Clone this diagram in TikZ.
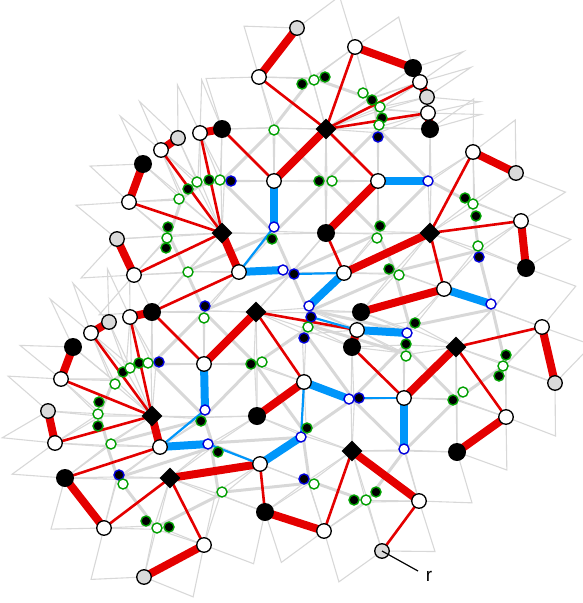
\documentclass[tikz,border=0pt]{standalone}
\usepackage{fontspec}
\setsansfont{Liberation Sans}
\usetikzlibrary{calc,shapes.geometric}
\pgfdeclarelayer{tiles}
\pgfdeclarelayer{edges}
\pgfsetlayers{tiles,edges,main}
\definecolor{tred}{RGB}{228,0,0}
\definecolor{tblue}{RGB}{0,150,250}
\definecolor{tgreen}{RGB}{0,160,0}
\definecolor{tnavy}{RGB}{0,0,220}
\definecolor{tline}{RGB}{216,216,216}
\definecolor{tleaf}{RGB}{218,218,218}

% rhombus of side 53 with diagonal #1--#2
\newcommand{\spike}[2]{%
  \draw[tilethin] let \p1=(#1.center), \p2=(#2.center),
    \n1={veclen(\x2-\x1,\y2-\y1)/2}, \n2={sqrt(max(2809-\n1*\n1,0))} in
    (\p1) -- ($(\p1)!.5!(\p2)!\n2!90:(\p2)$) -- (\p2)
    -- ($(\p1)!.5!(\p2)!\n2!-90:(\p2)$) -- cycle;}
\newcommand{\tile}[2]{%
  \draw[tilethick] let \p1=(#1.center), \p2=(#2.center),
    \n1={veclen(\x2-\x1,\y2-\y1)/2}, \n2={sqrt(max(2809-\n1*\n1,0))} in
    ($(\p1)!.5!(\p2)!\n2!90:(\p2)$) -- ($(\p1)!.5!(\p2)!\n2!-90:(\p2)$);
  \spike{#1}{#2}}

\begin{document}
\begin{tikzpicture}[x=1pt,y=-1pt,
  wn/.style={circle,draw,fill=white,line width=1.3pt,minimum size=14.5pt,inner sep=0pt},
  gn/.style={wn,fill=tleaf},
  bn/.style={circle,fill=black,minimum size=18pt,inner sep=0pt},
  dn/.style={diamond,fill=black,minimum size=21pt,inner sep=0pt},
  sm/.style={circle,line width=1.4pt,minimum size=10pt,inner sep=0pt},
  gb/.style={sm,draw=tgreen,fill=black},
  gw/.style={sm,draw=tgreen,fill=white},
  bb/.style={sm,draw=tnavy,fill=black},
  bw/.style={sm,draw=tnavy,fill=white},
  tilethin/.style={tline,line width=1.1pt},
  tilethick/.style={tline,line width=3pt},
  rfat/.style={tred,line width=8pt},
  rthin/.style={tred,line width=2.6pt},
  bfat/.style={tblue,line width=8pt},
  bthin/.style={tblue,line width=2.2pt}]
\useasboundingbox (0,0) rectangle (583,603);

% Large nodes
\node[gn] (p1) at (297,28) {};
\node[wn] (p2) at (259,77) {};
\node[wn] (p3) at (355,47) {};
\node[bn] (p4) at (413,68) {};
\node[wn] (p5) at (420,82) {};
\node[gn] (p6) at (427,97) {};
\node[wn] (p7) at (428,113) {};
\node[bn] (p8) at (430,129) {};
\node[dn] (p9) at (326,129) {};
\node[wn] (p10) at (274,181) {};
\node[wn] (p11) at (378,181) {};
\node[wn] (p12) at (200,133) {};
\node[bn] (p13) at (222,129) {};
\node[gn] (p14) at (178,138) {};
\node[wn] (p15) at (161,150) {};
\node[bn] (p16) at (143,164) {};
\node[wn] (p17) at (129,202) {};
\node[dn] (p18) at (222,233) {};
\node[gn] (p19) at (117,239) {};
\node[wn] (p20) at (134,275) {};
\node[wn] (p21) at (239,272) {};
\node[wn] (p22) at (344,273) {};
\node[bn] (p23) at (326,233) {};
\node[dn] (p24) at (430,233) {};
\node[wn] (p25) at (473,152) {};
\node[gn] (p26) at (516,173) {};
\node[wn] (p27) at (521,221) {};
\node[bn] (p28) at (526,268) {};
\node[wn] (p29) at (444,289) {};
\node[bn] (p30) at (361,312) {};
\node[bn] (p32) at (352,347) {};
\node[wn] (p31) at (357,330) {};
\node[dn] (p33) at (456,347) {};
\node[wn] (p34) at (542,327) {};
\node[gn] (p35) at (555,383) {};
\node[wn] (p36) at (506,417) {};
\node[bn] (p37) at (457,452) {};
\node[wn] (p38) at (404,398) {};
\node[dn] (p39) at (352,451) {};
\node[wn] (p40) at (419,501) {};
\node[gn] (p41) at (382,551) {};
\node[wn] (p42) at (324,531) {};
\node[bn] (p43) at (265,512) {};
\node[wn] (p44) at (260,464) {};
\node[wn] (p45) at (304,382) {};
\node[bn] (p46) at (257,416) {};
\node[dn] (p47) at (256,312) {};
\node[wn] (p48) at (204,364) {};
\node[wn] (p49) at (160,447) {};
\node[dn] (p50) at (152,416) {};
\node[wn] (p51) at (55,443) {};
\node[gn] (p52) at (48,411) {};
\node[wn] (p53) at (61,379) {};
\node[bn] (p54) at (73,347) {};
\node[wn] (p55) at (91,333) {};
\node[gn] (p56) at (109,322) {};
\node[wn] (p57) at (130,317) {};
\node[bn] (p58) at (152,312) {};
\node[bn] (p59) at (65,478) {};
\node[wn] (p60) at (104,528) {};
\node[dn] (p61) at (170,478) {};
\node[wn] (p62) at (204,545) {};
\node[gn] (p63) at (144,577) {};

% Small nodes
\node[bw] (b1) at (428,181) {};
\node[bw] (b2) at (274,227) {};
\node[bw] (b3) at (283,270) {};
\node[bw] (b4) at (309,306) {};
\node[bw] (b5) at (491,304) {};
\node[bw] (b6) at (407,333) {};
\node[bw] (b7) at (349,399) {};
\node[bw] (b8) at (404,449) {};
\node[bw] (b9) at (205,410) {};
\node[bw] (b10) at (208,444) {};
\node[bw] (b11) at (301,437) {};
\node[bb] (k1) at (378,137) {};
\node[bb] (k2) at (231,181) {};
\node[bb] (k3) at (294,274) {};
\node[bb] (k4) at (311,317) {};
\node[bb] (k5) at (304,338) {};
\node[bb] (k6) at (205,306) {};
\node[bb] (k7) at (159,362) {};
\node[bb] (k8) at (359,398) {};
\node[bb] (k9) at (479,257) {};
\node[bb] (k10) at (119,475) {};
\node[bb] (k11) at (304,479) {};
\node[gb] (g1) at (302,84) {};
\node[gw] (w1) at (314,80) {};
\node[gb] (g2) at (325,77) {};
\node[gw] (w2) at (363,93) {};
\node[gb] (g3) at (372,100) {};
\node[gw] (w3) at (380,107) {};
\node[gb] (g4) at (382,118) {};
\node[gw] (w4) at (379,125) {};
\node[gw] (w5) at (274,130) {};
\node[gb] (g7) at (319,181) {};
\node[gw] (w6) at (332,181) {};
\node[gw] (w7) at (197,182) {};
\node[gb] (g5) at (209,180) {};
\node[gw] (w8) at (220,180) {};
\node[gb] (g6) at (188,189) {};
\node[gw] (w9) at (179,199) {};
\node[gb] (g9) at (168,227) {};
\node[gw] (w10) at (167,238) {};
\node[gb] (g10) at (166,248) {};
\node[gw] (w11) at (188,272) {};
\node[gb] (g8) at (272,239) {};
\node[gb] (g11) at (380,226) {};
\node[gw] (w12) at (377,238) {};
\node[gb] (g12) at (389,269) {};
\node[gw] (w13) at (399,275) {};
\node[gb] (g13) at (465,198) {};
\node[gw] (w14) at (473,204) {};
\node[gb] (g14) at (476,216) {};
\node[gw] (w15) at (478,246) {};
\node[gw] (w16) at (204,318) {};
\node[gw] (w17) at (308,327) {};
\node[gb] (g15) at (415,323) {};
\node[gb] (g16) at (406,344) {};
\node[gw] (w18) at (406,356) {};
\node[gb] (g17) at (251,364) {};
\node[gw] (w19) at (262,362) {};
\node[gb] (g18) at (123,372) {};
\node[gw] (w20) at (130,368) {};
\node[gb] (g19) at (139,363) {};
\node[gw] (w21) at (148,363) {};
\node[gw] (w22) at (115,384) {};
\node[gb] (g20) at (506,355) {};
\node[gw] (w23) at (503,366) {};
\node[gb] (g21) at (499,376) {};
\node[gb] (g22) at (99,402) {};
\node[gw] (w24) at (98,414) {};
\node[gb] (g23) at (98,426) {};
\node[gw] (w25) at (111,444) {};
\node[gb] (g24) at (201,421) {};
\node[gb] (g25) at (218,452) {};
\node[gb] (g26) at (307,428) {};
\node[gb] (g27) at (453,400) {};
\node[gw] (w26) at (463,392) {};
\node[gw] (w27) at (123,484) {};
\node[gw] (w28) at (222,492) {};
\node[gw] (w29) at (314,484) {};
\node[gb] (g30) at (354,500) {};
\node[gw] (w30) at (366,500) {};
\node[gb] (g31) at (376,492) {};
\node[gb] (g28) at (146,521) {};
\node[gw] (w31) at (157,528) {};
\node[gb] (g29) at (169,527) {};

% Tiling
\begin{pgfonlayer}{tiles}
\spike{p1}{p2} \spike{p1}{p3} \spike{p3}{p4} \spike{p4}{p5} \spike{p5}{p6}
\spike{p6}{p7} \spike{p7}{p8} \spike{p8}{p25} \spike{p25}{p26} \spike{p26}{p27}
\spike{p27}{p28} \spike{p28}{p34} \spike{p34}{p35} \spike{p35}{p36} \spike{p36}{p37}
\spike{p37}{p40} \spike{p40}{p41} \spike{p41}{p42} \spike{p42}{p43} \spike{p43}{p62}
\spike{p62}{p63} \spike{p60}{p63} \spike{p59}{p60} \spike{p51}{p59} \spike{p51}{p52}
\spike{p52}{p53} \spike{p53}{p54} \spike{p54}{p55} \spike{p55}{p56} \spike{p56}{p57}
\spike{p57}{p58} \spike{p20}{p58} \spike{p19}{p20} \spike{p17}{p19} \spike{p16}{p17}
\spike{p15}{p16} \spike{p14}{p15} \spike{p12}{p14} \spike{p12}{p13} \spike{p2}{p13}
\tile{p2}{p9} \tile{p3}{p9} \tile{p5}{p9} \tile{p7}{p9} \tile{p9}{p11}
\tile{p9}{p10} \tile{p10}{p13} \tile{p8}{p11} \tile{p10}{p18} \tile{p10}{p23}
\tile{p11}{p24} \tile{p11}{p23} \tile{p12}{p18} \tile{p15}{p18} \tile{p17}{p18}
\tile{p20}{p18} \tile{p18}{p21} \tile{p21}{p23} \tile{p22}{p23} \tile{p22}{p24}
\tile{p24}{p25} \tile{p24}{p27} \tile{p24}{p29} \tile{p28}{p29} \tile{p29}{p30}
\tile{p29}{p33} \tile{p33}{p34} \tile{p21}{p58} \tile{p21}{p47} \tile{p22}{p47}
\tile{p22}{p30} \tile{p30}{p31} \tile{p31}{p47} \tile{p31}{p32} \tile{p31}{p33}
\tile{p32}{p38} \tile{p33}{p38} \tile{p33}{p36} \tile{p37}{p38} \tile{p38}{p39}
\tile{p32}{p45} \tile{p39}{p45} \tile{p39}{p44} \tile{p39}{p42} \tile{p39}{p40}
\tile{p43}{p44} \tile{p45}{p47} \tile{p45}{p46} \tile{p47}{p48} \tile{p48}{p58}
\tile{p46}{p48} \tile{p44}{p46} \tile{p46}{p49} \tile{p48}{p50} \tile{p49}{p50}
\tile{p49}{p61} \tile{p44}{p61} \tile{p61}{p62} \tile{p60}{p61} \tile{p49}{p59}
\tile{p50}{p51} \tile{p50}{p53} \tile{p50}{p55} \tile{p50}{p57}
\end{pgfonlayer}

% Red tree
\begin{pgfonlayer}{edges}
\draw[rfat] (p1.center) -- (p2.center);
\draw[rfat] (p3.center) -- (p4.center);
\draw[rfat] (p5.center) -- (p6.center);
\draw[rfat] (p7.center) -- (p8.center);
\draw[rfat] (p9.center) -- (p10.center);
\draw[rfat] (p11.center) -- (p23.center);
\draw[rfat] (p12.center) -- (p13.center);
\draw[rfat] (p14.center) -- (p15.center);
\draw[rfat] (p16.center) -- (p17.center);
\draw[rfat] (p18.center) -- (p21.center);
\draw[rfat] (p19.center) -- (p20.center);
\draw[rfat] (p22.center) -- (p24.center);
\draw[rfat] (p25.center) -- (p26.center);
\draw[rfat] (p27.center) -- (p28.center);
\draw[rfat] (p29.center) -- (p30.center);
\draw[rfat] (p31.center) -- (p32.center);
\draw[rfat] (p33.center) -- (p38.center);
\draw[rfat] (p34.center) -- (p35.center);
\draw[rfat] (p36.center) -- (p37.center);
\draw[rfat] (p39.center) -- (p40.center);
\draw[rfat] (p42.center) -- (p43.center);
\draw[rfat] (p44.center) -- (p61.center);
\draw[rfat] (p45.center) -- (p46.center);
\draw[rfat] (p47.center) -- (p48.center);
\draw[rfat] (p49.center) -- (p50.center);
\draw[rfat] (p51.center) -- (p52.center);
\draw[rfat] (p53.center) -- (p54.center);
\draw[rfat] (p55.center) -- (p56.center);
\draw[rfat] (p57.center) -- (p58.center);
\draw[rfat] (p59.center) -- (p60.center);
\draw[rfat] (p62.center) -- (p63.center);
\draw[rthin] (p2.center) -- (p9.center);
\draw[rthin] (p3.center) -- (p9.center);
\draw[rthin] (p5.center) -- (p9.center);
\draw[rthin] (p7.center) -- (p9.center);
\draw[rthin] (p11.center) -- (p9.center);
\draw[rthin] (p13.center) -- (p10.center);
\draw[rthin] (p12.center) -- (p18.center);
\draw[rthin] (p15.center) -- (p18.center);
\draw[rthin] (p17.center) -- (p18.center);
\draw[rthin] (p20.center) -- (p18.center);
\draw[rthin] (p23.center) -- (p22.center);
\draw[rthin] (p25.center) -- (p24.center);
\draw[rthin] (p27.center) -- (p24.center);
\draw[rthin] (p29.center) -- (p24.center);
\draw[rthin] (p58.center) -- (p21.center);
\draw[rthin] (p31.center) -- (p47.center);
\draw[rthin] (p45.center) -- (p47.center);
\draw[rthin] (p32.center) -- (p38.center);
\draw[rthin] (p34.center) -- (p33.center);
\draw[rthin] (p36.center) -- (p33.center);
\draw[rthin] (p42.center) -- (p39.center);
\draw[rthin] (p41.center) -- (p40.center);
\draw[rthin] (p43.center) -- (p44.center);
\draw[rthin] (p57.center) -- (p50.center);
\draw[rthin] (p55.center) -- (p50.center);
\draw[rthin] (p53.center) -- (p50.center);
\draw[rthin] (p51.center) -- (p50.center);
\draw[rthin] (p58.center) -- (p48.center);
\draw[rthin] (p59.center) -- (p49.center);
\draw[rthin] (p60.center) -- (p61.center);
\draw[rthin] (p62.center) -- (p61.center);

% Blue tree
\draw[bfat] (p11.center) -- (b1.center);
\draw[bfat] (p10.center) -- (b2.center);
\draw[bfat] (p21.center) -- (b3.center);
\draw[bfat] (p22.center) -- (b4.center);
\draw[bfat] (p29.center) -- (b5.center);
\draw[bfat] (p31.center) -- (b6.center);
\draw[bfat] (p45.center) -- (b7.center);
\draw[bfat] (p38.center) -- (b8.center);
\draw[bfat] (p48.center) -- (b9.center);
\draw[bfat] (p49.center) -- (b10.center);
\draw[bfat] (p44.center) -- (b11.center);
\draw[bthin] (b2.center) -- (p21.center);
\draw[bthin] (k3.center) -- (p22.center);
\draw[bthin] (k4.center) -- (p31.center);
\draw[bthin] (k8.center) -- (p38.center);
\draw[bthin] (b9.center) -- (p49.center);
\draw[bthin] (b10.center) -- (p44.center);
\draw[bthin] (b11.center) -- (p45.center);
\end{pgfonlayer}

% Root label
\node[font=\sffamily\fontsize{19}{19}\selectfont,inner sep=0pt] (rlab) at (429,576) {r};
\coordinate (rtip) at (418,571);
\draw[line width=1.2pt] (p41.center) -- (rtip);
\end{tikzpicture}
\end{document}
